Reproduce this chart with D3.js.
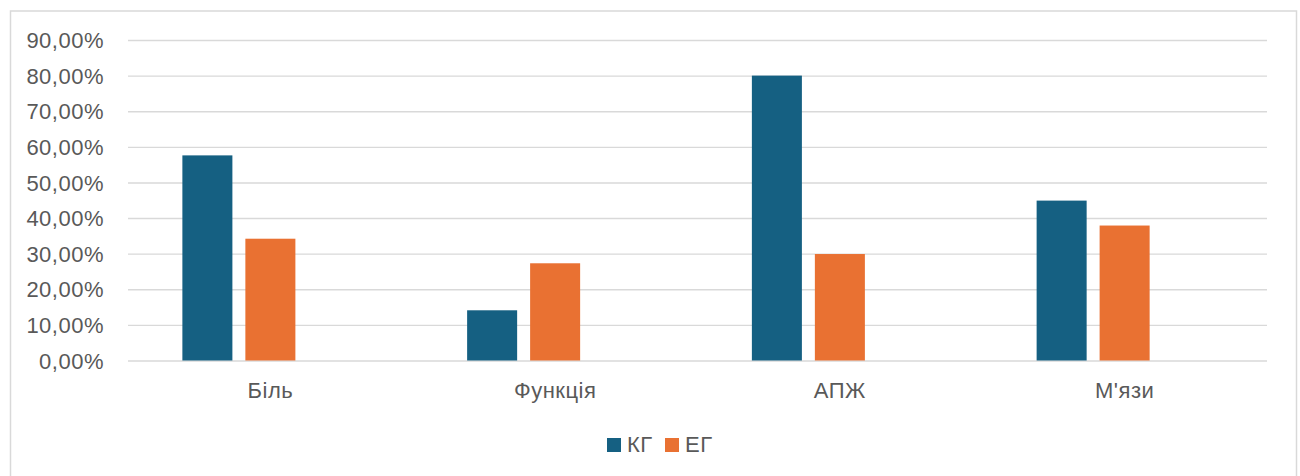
<!DOCTYPE html>
<html><head><meta charset="utf-8">
<script src="https://cdn.jsdelivr.net/npm/d3@7"></script>
<style>
html,body{margin:0;padding:0;background:#fff;}
svg{display:block;}
text{font-family:"Liberation Sans",Arial,sans-serif;fill:#595959;}
</style></head>
<body>
<svg id="chart" width="1300" height="476"></svg>
<script>
const categories = ["Біль", "Функція", "АПЖ", "М'язи"];
const seriesNames = ["КГ", "ЕГ"];
const kgValues = [0.576, 0.141, 0.800, 0.449];
const egValues = [0.342, 0.273, 0.299, 0.379];
const seriesColors = ["#156082", "#E97132"];
const yTicks = [0, 0.1, 0.2, 0.3, 0.4, 0.5, 0.6, 0.7, 0.8, 0.9];
// Excel leaves a slot for a third (empty) series in each group
const slots = ["КГ", "ЕГ", "_empty"];

(function () {
const svg = d3.select("#chart");
const locale = d3.formatLocale({decimal: ",", thousands: " ", grouping: [3], currency: ["", ""], percent: "%"});
const fmt = locale.format(".2%");
const FS = 22, LS = "0.5px";

svg.append("rect").attr("x", 10.5).attr("y", 11).attr("width", 1286).attr("height", 480)
  .attr("fill", "#fff").attr("stroke", "#d9d9d9").attr("stroke-width", 1.5);

const mLeft = 128, mRight = 1267, mTop = 40, mBottom = 360.5;
const x = d3.scaleBand().domain(categories).range([mLeft, mRight]).padding(0);
const y = d3.scaleLinear().domain([0, 0.9]).range([mBottom, mTop]);
const groupW = 176;
const x1 = d3.scaleBand().domain(slots)
  .range([(x.bandwidth() - groupW) / 2, (x.bandwidth() + groupW) / 2])
  .paddingInner(0.206).paddingOuter(0);

const yAxis = d3.axisLeft(y).tickValues(yTicks).tickFormat(fmt).tickSize(-(mRight - mLeft)).tickPadding(24);
const gy = svg.append("g").attr("transform", `translate(${mLeft},0)`).call(yAxis);
gy.select(".domain").remove();
gy.selectAll(".tick line").attr("stroke", "#d9d9d9").attr("stroke-width", 1.4);
gy.selectAll(".tick text").attr("font-size", FS).attr("fill", "#595959").attr("dy", "0.35em")
  .style("font-family", "'Liberation Sans', Arial, sans-serif").style("letter-spacing", LS);

const xAxis = d3.axisBottom(x).tickSize(0).tickPadding(22);
const gx = svg.append("g").attr("transform", `translate(0,${mBottom})`).call(xAxis);
gx.select(".domain").remove();
gx.selectAll(".tick text").attr("font-size", FS).attr("fill", "#595959")
  .style("font-family", "'Liberation Sans', Arial, sans-serif").style("letter-spacing", LS);

const series = [kgValues, egValues];
seriesNames.forEach((name, si) => {
  svg.append("g").selectAll("rect").data(categories).join("rect")
    .attr("x", c => x(c) + x1(name))
    .attr("width", x1.bandwidth())
    .attr("y", (c, i) => y(series[si][i]))
    .attr("height", (c, i) => y(0) - y(series[si][i]))
    .attr("fill", seriesColors[si]);
});

const legendPos = [{x: 607, tx: 627}, {x: 665, tx: 685}];
seriesNames.forEach((name, i) => {
  const g = svg.append("g");
  g.append("rect").attr("x", legendPos[i].x).attr("y", 438).attr("width", 14).attr("height", 14)
    .attr("fill", seriesColors[i]);
  g.append("text").attr("x", legendPos[i].tx).attr("y", 452).attr("font-size", FS)
    .style("letter-spacing", LS).text(name);
});
})();
</script>
</body></html>
